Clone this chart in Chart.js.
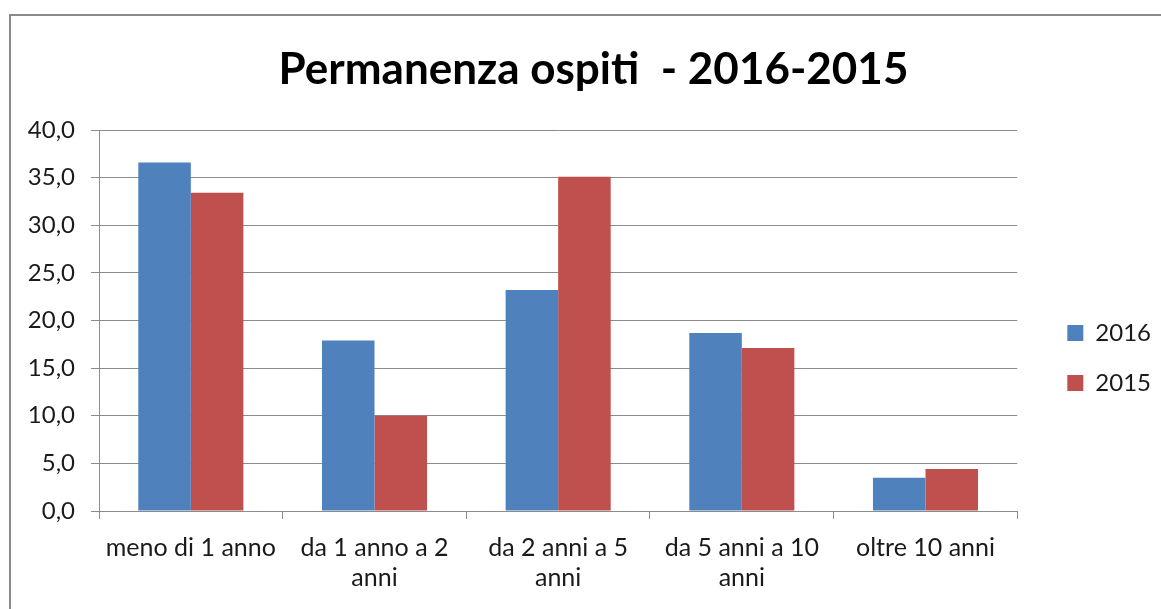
<!DOCTYPE html>
<html lang="it">
<head>
<meta charset="utf-8">
<title>Permanenza ospiti - 2016-2015</title>
<script src="https://cdn.jsdelivr.net/npm/chart.js@4/dist/chart.umd.min.js"></script>
<style>
	html, body {
		margin: 0;
		padding: 0;
		width: 1161px;
		height: 609px;
		overflow: hidden;
		background: #ffffff;
	}
	#frame {
		position: absolute;
		left: 9px;
		top: 14px;
		width: 1300px;
		height: 800px;
		border: 2px solid #8a8a8a;
	}
	#chart {
		position: absolute;
		left: 0;
		top: 0;
	}
</style>
</head>
<body>
<div id="frame"></div>
<canvas id="chart" width="1172" height="609"></canvas>
<script>
const categorie = [
	"meno di 1 anno",
	["da 1 anno a 2", "anni"],
	["da 2 anni a 5", "anni"],
	["da 5 anni a 10", "anni"],
	"oltre 10 anni",
];
const valori2016 = [36.6, 17.9, 23.2, 18.7, 3.5];
const valori2015 = [33.4, 10.0, 35.1, 17.1, 4.4];
const tickY = [0, 5, 10, 15, 20, 25, 30, 35, 40];

const FONT = "Lato, 'Open Sans', sans-serif";
const GRIGIO = "#8c8c8c";

function creaGrafico() {
	const ctx = document.getElementById("chart").getContext("2d");
	new Chart(ctx, {
		type: "bar",
		data: {
			labels: categorie,
			datasets: [
				{
					label: "2016",
					data: valori2016,
					backgroundColor: "#4f81bd",
				},
				{
					label: "2015",
					data: valori2015,
					backgroundColor: "#c0504d",
				},
			],
		},
		options: {
			responsive: false,
			animation: false,
			devicePixelRatio: 1,
			categoryPercentage: 0.572,
			barPercentage: 1.0,
			layout: {
				padding: { left: 26, right: 11, top: 0, bottom: 0 },
			},
			plugins: {
				tooltip: { enabled: false },
				title: {
					display: true,
					text: "Permanenza ospiti  - 2016-2015",
					color: "#000000",
					font: { family: FONT, size: 44, weight: "bold", lineHeight: 1.2 },
					padding: { top: 43.6, bottom: 33.6 },
				},
				legend: {
					position: "right",
					align: "start",
					fullSize: false,
					// titolo vuoto usato solo per abbassare le voci
					title: {
						display: true,
						text: "",
						font: { size: 12, lineHeight: 1.2 },
						padding: { top: 150.6, bottom: 0 },
					},
					labels: {
						color: "#1a1a1a",
						font: { family: FONT, size: 24 },
						boxWidth: 16,
						boxHeight: 16,
						padding: 26,
					},
				},
			},
			scales: {
				x: {
					offset: true,
					grid: {
						offset: true,
						drawOnChartArea: false,
						drawTicks: true,
						tickLength: 8,
						color: GRIGIO,
					},
					border: { display: true, color: GRIGIO },
					ticks: {
						color: "#1a1a1a",
						padding: 14,
						maxRotation: 0,
						autoSkip: false,
						font: { family: FONT, size: 25, lineHeight: 1.2 },
					},
					afterFit: (scale) => {
						scale.height = 98;
					},
				},
				y: {
					min: 0,
					max: 40,
					afterBuildTicks: (scale) => {
						scale.ticks = tickY.map((v) => ({ value: v }));
					},
					grid: {
						color: GRIGIO,
						tickLength: 8,
					},
					border: { display: true, color: GRIGIO },
					ticks: {
						color: "#1a1a1a",
						padding: 16,
						font: { family: FONT, size: 24 },
						callback: (v) => Number(v).toFixed(1).replace(".", ","),
					},
					afterFit: (scale) => {
						scale.width = 73;
					},
				},
				// asse vuoto: solo spazio tra grafico e legenda
				spazio: {
					type: "linear",
					position: "right",
					display: true,
					grid: { display: false },
					border: { display: false },
					ticks: { display: false },
					afterFit: (scale) => {
						scale.width = 24;
					},
				},
			},
		},
	});
}

creaGrafico();
</script>
</body>
</html>
